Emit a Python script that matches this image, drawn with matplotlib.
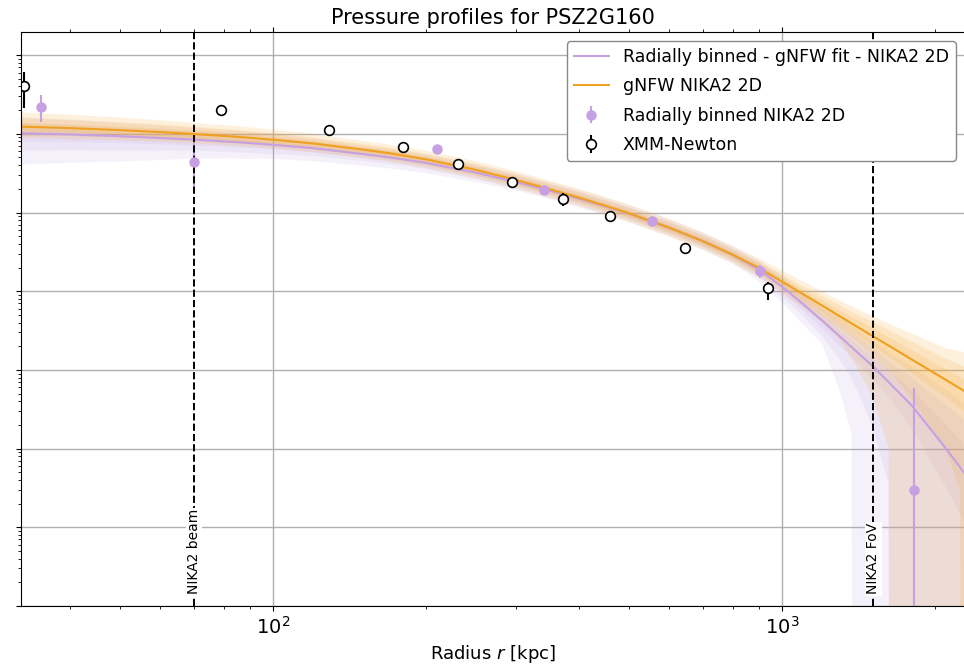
import numpy as np
import matplotlib
matplotlib.use("Agg")
import matplotlib.pyplot as plt

# radius grid of the model curves [kpc]
r_model = [32, 40, 50, 60, 70, 85, 100, 120, 150, 170, 200, 250, 300, 350, 400, 450, 500,
           600, 700, 800, 900, 1000, 1100, 1200, 1300, 1370, 1380, 1500, 1620, 1630,
           1800, 2100, 2240, 2250, 2500]

# gNFW NIKA2 2D : log10 of median pressure and band half widths (dex)
gnfw_logp = [-0.909, -0.928, -0.953, -0.978, -1.003, -1.038, -1.075, -1.123, -1.200,
             -1.248, -1.325, -1.457, -1.586, -1.705, -1.812, -1.914, -2.009, -2.192,
             -2.365, -2.536, -2.701, -2.878, -3.038, -3.183, -3.320, -3.409, -3.422,
             -3.562, -3.691, -3.701, -3.869, -4.128, -4.238, -4.245, -4.423]
gnfw_in_up = [0.05, 0.05, 0.05, 0.05, 0.05, 0.05, 0.05, 0.045, 0.04, 0.04, 0.04, 0.04,
              0.04, 0.04, 0.04, 0.04, 0.04, 0.04, 0.04, 0.04, 0.045, 0.05, 0.06, 0.07,
              0.08, 0.09, 0.09, 0.10, 0.11, 0.11, 0.12, 0.14, 0.15, 0.15, 0.17]
gnfw_in_dn = [0.05, 0.05, 0.05, 0.05, 0.05, 0.05, 0.05, 0.045, 0.04, 0.04, 0.04, 0.04,
              0.04, 0.04, 0.04, 0.04, 0.04, 0.04, 0.04, 0.04, 0.045, 0.05, 0.06, 0.07,
              0.09, 0.10, 0.10, 0.12, 0.14, 0.14, 0.17, 0.22, 0.25, 0.25, 0.30]
gnfw_mid_up = [0.11, 0.10, 0.10, 0.095, 0.09, 0.085, 0.08, 0.075, 0.07, 0.07, 0.07, 0.07,
               0.07, 0.07, 0.07, 0.07, 0.07, 0.07, 0.07, 0.07, 0.075, 0.09, 0.10, 0.12,
               0.14, 0.15, 0.15, 0.18, 0.20, 0.20, 0.23, 0.27, 0.30, 0.30, 0.33]
gnfw_mid_dn = [0.10, 0.10, 0.09, 0.09, 0.09, 0.085, 0.08, 0.075, 0.07, 0.07, 0.07, 0.07,
               0.07, 0.07, 0.07, 0.07, 0.07, 0.07, 0.07, 0.07, 0.075, 0.09, 0.11, 0.13,
               0.16, 0.18, 0.18, 0.24, 0.32, 0.32, 0.50, 0.90, 1.30, 12.0, 12.0]
gnfw_out_up = [0.18, 0.17, 0.16, 0.15, 0.14, 0.135, 0.13, 0.12, 0.11, 0.11, 0.11, 0.11,
               0.11, 0.11, 0.11, 0.11, 0.11, 0.11, 0.11, 0.11, 0.12, 0.14, 0.16, 0.18,
               0.20, 0.22, 0.22, 0.25, 0.28, 0.28, 0.33, 0.40, 0.48, 0.48, 0.55]
gnfw_out_dn = [0.14, 0.14, 0.13, 0.125, 0.12, 0.115, 0.11, 0.11, 0.11, 0.11, 0.11, 0.11,
               0.11, 0.11, 0.11, 0.11, 0.11, 0.11, 0.11, 0.11, 0.12, 0.14, 0.17, 0.22,
               0.30, 0.45, 0.47, 0.75, 1.30, 12.0, 12.0, 12.0, 12.0, 12.0, 12.0]

# Radially binned - gNFW fit - NIKA2 2D
rb_logp = [-0.991, -1.008, -1.031, -1.053, -1.074, -1.106, -1.139, -1.183, -1.257,
           -1.301, -1.370, -1.492, -1.611, -1.723, -1.825, -1.923, -2.015, -2.194,
           -2.365, -2.539, -2.723, -2.942, -3.164, -3.374, -3.577, -3.710, -3.729,
           -3.939, -4.155, -4.174, -4.454, -5.000, -5.241, -5.261, -5.648]
rb_in_up = [0.07, 0.06, 0.06, 0.055, 0.05, 0.045, 0.04, 0.04, 0.04, 0.04, 0.04, 0.04,
            0.04, 0.04, 0.04, 0.04, 0.04, 0.04, 0.04, 0.04, 0.04, 0.05, 0.06, 0.07,
            0.08, 0.10, 0.10, 0.12, 0.15, 0.15, 0.20, 0.30, 0.35, 0.35, 0.45]
rb_in_dn = [0.10, 0.09, 0.08, 0.075, 0.07, 0.06, 0.05, 0.045, 0.04, 0.04, 0.04, 0.04,
            0.04, 0.04, 0.04, 0.04, 0.04, 0.04, 0.04, 0.04, 0.06, 0.07, 0.08, 0.10,
            0.12, 0.13, 0.13, 0.16, 0.20, 0.20, 0.30, 0.50, 0.60, 0.60, 0.90]
rb_mid_up = [0.13, 0.12, 0.11, 0.105, 0.10, 0.095, 0.09, 0.085, 0.08, 0.08, 0.08, 0.08,
             0.08, 0.08, 0.08, 0.08, 0.08, 0.08, 0.08, 0.08, 0.09, 0.10, 0.12, 0.14,
             0.17, 0.19, 0.19, 0.23, 0.27, 0.27, 0.35, 0.55, 0.65, 0.65, 0.85]
rb_mid_dn = [0.22, 0.20, 0.18, 0.16, 0.14, 0.13, 0.12, 0.10, 0.09, 0.085, 0.08, 0.08,
             0.08, 0.08, 0.08, 0.08, 0.08, 0.08, 0.08, 0.08, 0.10, 0.13, 0.15, 0.20,
             0.30, 0.40, 0.42, 0.75, 1.30, 12.0, 12.0, 12.0, 12.0, 12.0, 12.0]
rb_out_up = [0.20, 0.19, 0.17, 0.16, 0.15, 0.145, 0.14, 0.125, 0.11, 0.11, 0.11, 0.11,
             0.11, 0.11, 0.11, 0.11, 0.11, 0.11, 0.11, 0.11, 0.12, 0.14, 0.16, 0.20,
             0.24, 0.27, 0.27, 0.32, 0.38, 0.38, 0.50, 0.75, 0.85, 0.85, 1.10]
rb_out_dn = [0.40, 0.36, 0.32, 0.28, 0.24, 0.21, 0.18, 0.165, 0.15, 0.14, 0.13, 0.12,
             0.11, 0.11, 0.11, 0.11, 0.11, 0.11, 0.11, 0.11, 0.15, 0.20, 0.26, 0.30,
             0.70, 1.10, 12.0, 12.0, 12.0, 12.0, 12.0, 12.0, 12.0, 12.0, 12.0]

# Radially binned NIKA2 2D points [kpc], [keV cm^-3]
nk_r = [35, 70, 209.7, 341, 556, 906, 1814]
nk_p = [0.222, 0.0440, 0.0648, 0.0195, 0.00782, 0.00183, 3.01e-6]
nk_err_up = [0.086, 0.033, 0.006, 0.0015, 0.0006, 0.00035, 5.6e-5]
nk_err_dn = [0.080, 0.026, 0.006, 0.0015, 0.0006, 0.00034, 2.99e-6]

# XMM-Newton points
xmm_r = [32.4, 79.1, 129, 180, 231, 295, 371.5, 460, 646, 940]
xmm_p = [0.410, 0.203, 0.1131, 0.0688, 0.0414, 0.0247, 0.01502, 0.00913, 0.00358, 0.00111]
xmm_err_up = [0.207, 0.008, 0.003, 0.002, 0.0056, 0.001, 0.0029, 0.0005, 0.00057, 0.00021]
xmm_err_dn = [0.195, 0.008, 0.003, 0.002, 0.0053, 0.001, 0.0028, 0.0005, 0.00057, 0.00033]

r_beam = 70
r_fov = 1511

purple = "#c6a0e2"
purple_band = "#b394dc"
orange = "#f0a020"
orange_band = "#f7b040"

fig = plt.figure(figsize=(9.64, 6.64), dpi=100)
ax = fig.add_axes([21 / 964, 58 / 664, 943 / 964, 574 / 664])
ax.set_xscale("log")
ax.set_yscale("log")

r = np.array(r_model)
lp = np.array(rb_logp)
for up, dn in [(rb_out_up, rb_out_dn), (rb_mid_up, rb_mid_dn), (rb_in_up, rb_in_dn)]:
    ax.fill_between(r, 10 ** (lp - np.array(dn)), 10 ** (lp + np.array(up)),
                    color=purple_band, alpha=0.12, lw=0)
lp = np.array(gnfw_logp)
for up, dn in [(gnfw_out_up, gnfw_out_dn), (gnfw_mid_up, gnfw_mid_dn), (gnfw_in_up, gnfw_in_dn)]:
    ax.fill_between(r, 10 ** (lp - np.array(dn)), 10 ** (lp + np.array(up)),
                    color=orange_band, alpha=0.18, lw=0)

ax.plot(r, 10 ** np.array(rb_logp), color=purple, lw=1.5,
        label="Radially binned - gNFW fit - NIKA2 2D")
ax.plot(r, 10 ** np.array(gnfw_logp), color=orange, lw=1.5, label="gNFW NIKA2 2D")

ax.errorbar(nk_r, nk_p, yerr=[nk_err_dn, nk_err_up], fmt="o", color=purple,
            ms=6.5, elinewidth=1.5, capsize=0, label="Radially binned NIKA2 2D")
ax.errorbar(xmm_r, xmm_p, yerr=[xmm_err_dn, xmm_err_up], fmt="o", color="black",
            mfc="white", mec="black", ms=7, mew=1.2, elinewidth=1.5, capsize=0,
            label="XMM-Newton")

ax.axvline(r_beam, color="black", ls="--", lw=1.4)
ax.axvline(r_fov, color="black", ls="--", lw=1.4)
ax.text(r_beam, 1.4e-7, "NIKA2 beam", rotation=90, ha="center", va="bottom", fontsize=10,
        bbox=dict(facecolor="white", edgecolor="none", pad=1))
ax.text(r_fov, 1.4e-7, "NIKA2 FoV", rotation=90, ha="center", va="bottom", fontsize=10,
        bbox=dict(facecolor="white", edgecolor="none", pad=1))

ax.set_xlim(32, 2278)
ax.set_ylim(1e-7, 1.966)
ax.spines["right"].set_visible(False)
ax.grid(True, which="major", color="#b0b0b0", lw=1)
ax.set_axisbelow(True)
ax.tick_params(which="both", top=True, labelleft=False)
ax.tick_params(axis="x", labelsize=14)
ax.set_xlabel("Radius $r$ [kpc]", fontsize=13)
ax.set_title("Pressure profiles for PSZ2G160", fontsize=15)
ax.legend(loc="upper right", bbox_to_anchor=(0.991, 0.984), borderaxespad=0,
          fontsize=12.5, labelspacing=0.65, framealpha=1, edgecolor="#888888")

fig.savefig("out.png", dpi=100)
